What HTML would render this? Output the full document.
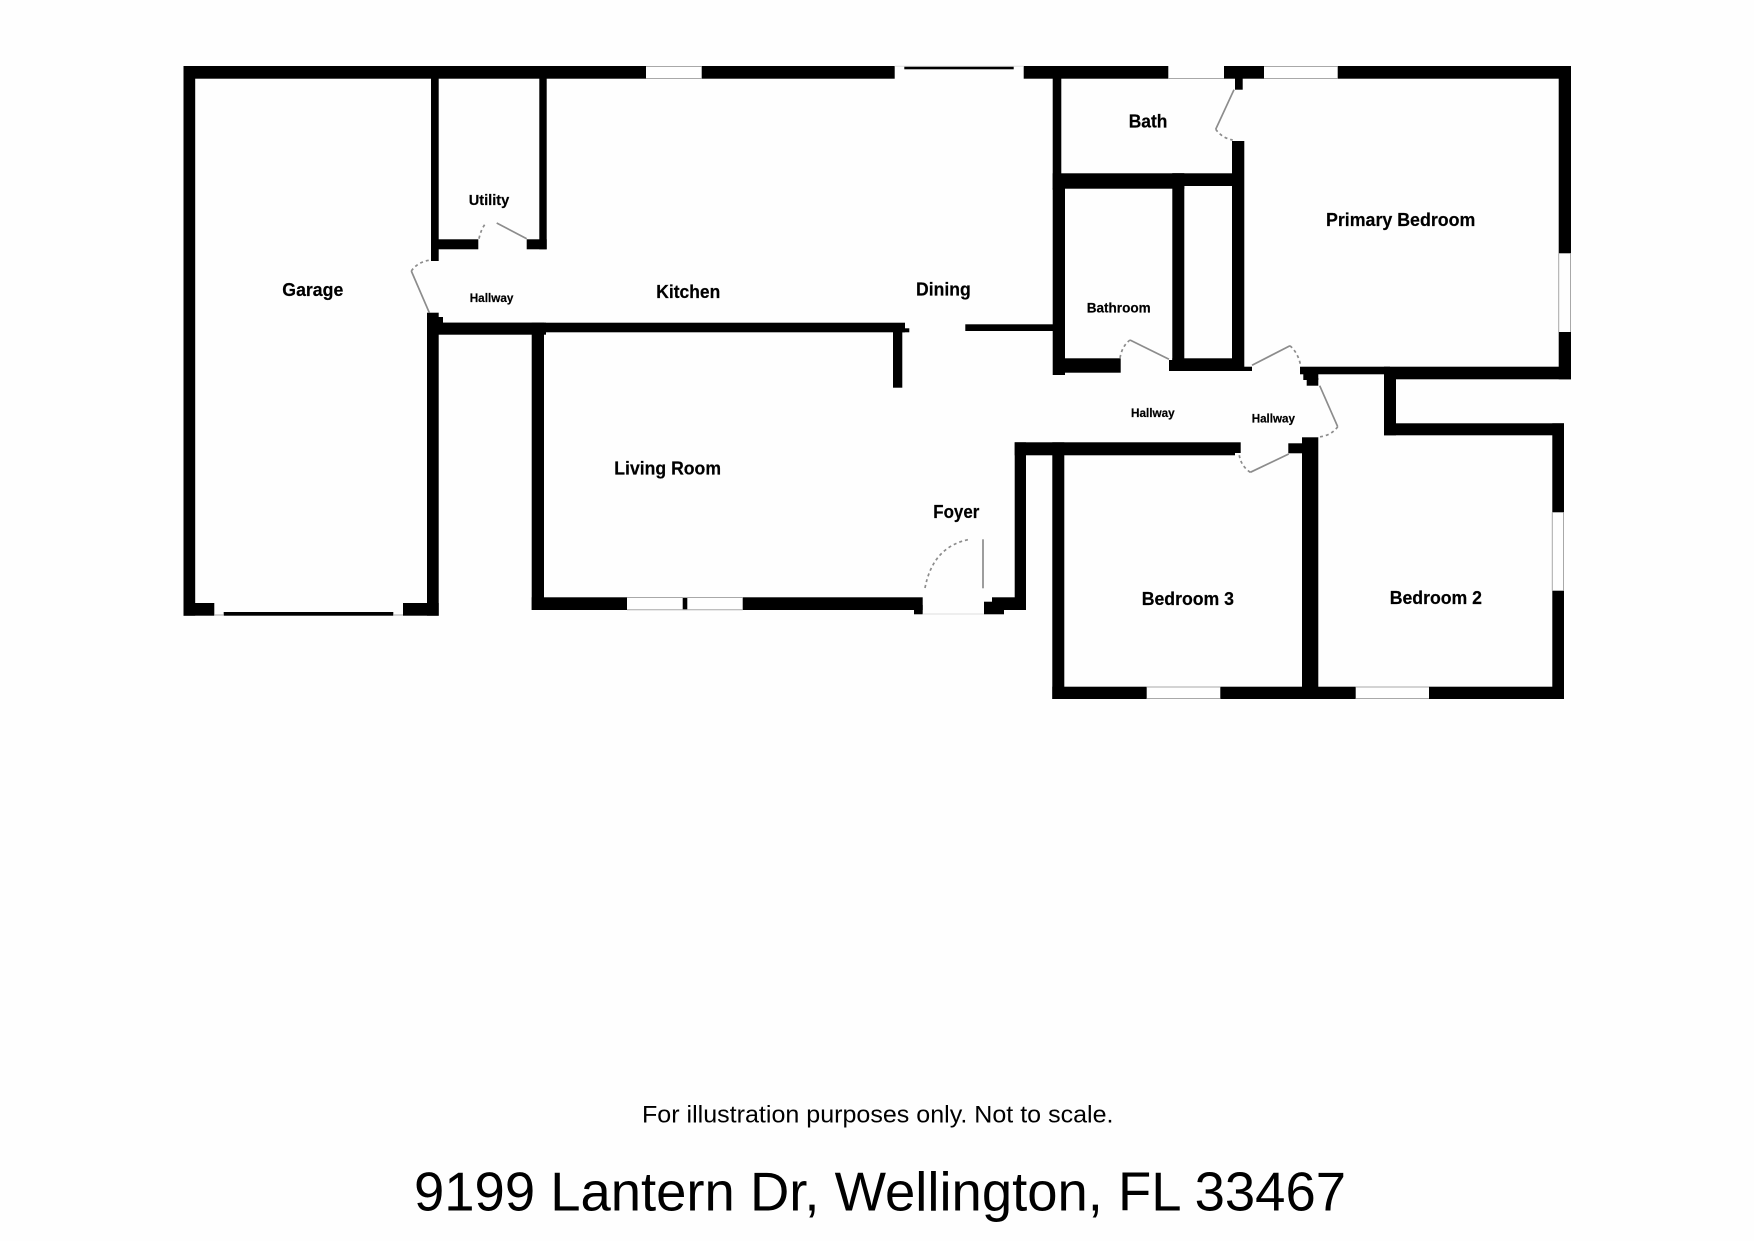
<!DOCTYPE html>
<html lang="en">
<head>
<meta charset="utf-8">
<title>9199 Lantern Dr floor plan</title>
<style>
html,body{margin:0;padding:0;background:#fff;width:1754px;height:1241px;overflow:hidden}
svg{display:block}
text{font-family:"Liberation Sans",sans-serif;fill:#000}
.b{font-weight:bold;stroke:#000;stroke-width:.2}
.win{stroke:#a8a8a8;stroke-width:1;fill:none}
.door{stroke:#8c8c8c;stroke-width:1.7;fill:none}
.arc{stroke:#8c8c8c;stroke-width:1.7;fill:none;stroke-dasharray:3 3}
</style>
</head>
<body>
<svg xmlns="http://www.w3.org/2000/svg" width="1754" height="1241" viewBox="0 0 1754 1241">
<rect width="1754" height="1241" fill="#fefefe"/>
<g fill="#000" stroke="none">
<!-- top wall -->
<rect x="183.5" y="66" width="462.5" height="12.7"/>
<rect x="701.7" y="66" width="193" height="12.7"/>
<rect x="904.3" y="66" width="109.4" height="3.3"/>
<rect x="1023.7" y="66" width="144.6" height="12.7"/>
<rect x="1224" y="66" width="40" height="12.7"/>
<rect x="1337.7" y="66" width="233.3" height="12.7"/>
<!-- garage -->
<rect x="183.5" y="66" width="11.7" height="549.7"/>
<rect x="183.5" y="603" width="30.8" height="12.7"/>
<rect x="223.7" y="612" width="169.6" height="3.7"/>
<rect x="403" y="603" width="35.7" height="12.7"/>
<rect x="427" y="312.7" width="11.7" height="303"/>
<rect x="438" y="317" width="5" height="8"/>
<!-- utility -->
<rect x="431" y="70" width="7.7" height="191"/>
<rect x="438" y="239.3" width="40.3" height="10"/>
<rect x="539.3" y="70" width="7.4" height="179.3"/>
<rect x="526.7" y="239.3" width="20" height="10"/>
<!-- kitchen / living divider -->
<rect x="438" y="322.7" width="467" height="9.6"/>
<rect x="427" y="322.7" width="119" height="12"/>
<rect x="900" y="328.3" width="9.3" height="4"/>
<rect x="893" y="330" width="9.3" height="57.7"/>
<!-- living room -->
<rect x="531.7" y="322.7" width="12.3" height="287.3"/>
<rect x="531.7" y="597.3" width="95.3" height="12.7"/>
<rect x="682.7" y="597.3" width="4.6" height="12.7"/>
<rect x="742.7" y="597.3" width="180" height="12.7"/>
<rect x="914" y="605" width="8.7" height="9.3"/>
<!-- foyer right -->
<rect x="984" y="601.7" width="20" height="12.6"/>
<rect x="992" y="597.3" width="34" height="12.7"/>
<rect x="1014.7" y="442.3" width="11.3" height="167.7"/>
<rect x="1014.7" y="442.3" width="220.3" height="13"/>
<rect x="1235" y="442.3" width="5.7" height="10.7"/>
<!-- bath / bathroom -->
<rect x="1052.7" y="70" width="8.6" height="120"/>
<rect x="1052.7" y="188" width="12.3" height="187"/>
<rect x="1052.7" y="173.3" width="131.6" height="15.4"/>
<rect x="1172.3" y="173.3" width="71.7" height="12.7"/>
<rect x="965.3" y="324.3" width="88" height="6.7"/>
<rect x="1060" y="358.3" width="60.7" height="14.4"/>
<rect x="1172.3" y="173.3" width="12" height="197.7"/>
<rect x="1169" y="360" width="10" height="11"/>
<rect x="1172.3" y="358.3" width="71.7" height="12.7"/>
<rect x="1240" y="366.7" width="12" height="4.3"/>
<rect x="1232" y="141" width="12.3" height="229"/>
<rect x="1235" y="70" width="7.7" height="19.7"/>
<!-- primary bedroom -->
<rect x="1558.7" y="66" width="12.3" height="187.3"/>
<rect x="1558.7" y="332" width="12.3" height="47.3"/>
<rect x="1384" y="366.7" width="187" height="12.6"/>
<rect x="1300" y="366.7" width="90" height="7.6"/>
<rect x="1303.3" y="372" width="15" height="8"/>
<rect x="1306.7" y="378" width="11.6" height="7.7"/>
<rect x="1384" y="372" width="12" height="63.3"/>
<!-- bedroom 2 -->
<rect x="1384" y="423.3" width="180" height="12"/>
<rect x="1552.3" y="423.3" width="11.7" height="89"/>
<rect x="1552.3" y="590.7" width="11.7" height="108.3"/>
<!-- bedroom 3 & shared -->
<rect x="1052.3" y="442.3" width="12" height="256.7"/>
<rect x="1052.3" y="686.7" width="94.4" height="12.3"/>
<rect x="1220.3" y="686.7" width="135.4" height="12.3"/>
<rect x="1429" y="686.7" width="135" height="12.3"/>
<rect x="1302" y="437.3" width="16.3" height="261.7"/>
<rect x="1288.3" y="443.3" width="14" height="10"/>
</g>
<!-- windows -->
<g class="win">
<path d="M646 66.5H701.7M646 78.5H701.7"/>
<path d="M1168.3 78.5H1224M1264 66.5H1337.7M1264 78.5H1337.7"/>
<path d="M1558.7 253.3V332M1570.5 253.3V332"/>
<path d="M1552.3 512.3V590.7M1563.5 512.3V590.7"/>
<path d="M1146.7 687H1220.3M1146.7 698.5H1220.3"/>
<path d="M1355.7 687H1429M1355.7 698.5H1429"/>
<path d="M627 597.5H742.7M627 609.8H742.7"/>
<path d="M214.3 615H223.7M393.3 615H403"/>
<path d="M922.7 614H984" stroke="#ddd"/>
<path d="M894.7 66.3H1023.7" stroke="#ddd"/>
</g>
<!-- doors -->
<g>
<path class="door" d="M429.3 312.7L411.3 271"/>
<path class="arc" d="M411.3 271Q418 261.5 431 260"/>
<path class="door" d="M526.7 238.7L496.7 223"/>
<path class="arc" d="M479 238.7Q481 229 486 223"/>
<path class="door" d="M1234 89.7L1215.7 129.3"/>
<path class="arc" d="M1215.7 129.3Q1222 138 1232.7 140"/>
<path class="door" d="M1169 359.3L1130 340"/>
<path class="arc" d="M1130 340Q1122 346 1120 358"/>
<path class="door" d="M1252 365.3L1290 345.7"/>
<path class="arc" d="M1290 345.7Q1299 354 1300.7 366.7"/>
<path class="door" d="M1319.7 385.7L1337.7 426.7"/>
<path class="arc" d="M1337.7 426.7Q1331 436 1318 437"/>
<path class="door" d="M1288.7 454L1250.3 472.3"/>
<path class="arc" d="M1250.3 472.3Q1241 466 1239.3 455.3"/>
<path class="door" d="M983 539.3V588.3"/>
<path class="arc" d="M925 588Q933 546 970 539.3"/>
</g>
<!-- labels -->
<g class="b">
<text x="282.3" y="296" font-size="18.5" textLength="61" lengthAdjust="spacingAndGlyphs">Garage</text>
<text x="468.7" y="205" font-size="15" textLength="40.6" lengthAdjust="spacingAndGlyphs">Utility</text>
<text x="469.7" y="301.8" font-size="12.3" textLength="43.7" lengthAdjust="spacingAndGlyphs">Hallway</text>
<text x="656.3" y="298.2" font-size="18.2" textLength="64" lengthAdjust="spacingAndGlyphs">Kitchen</text>
<text x="916" y="295.5" font-size="18.2" textLength="54.7" lengthAdjust="spacingAndGlyphs">Dining</text>
<text x="1128.7" y="127.5" font-size="18.2" textLength="38.7" lengthAdjust="spacingAndGlyphs">Bath</text>
<text x="1326" y="226" font-size="18.2" textLength="149.3" lengthAdjust="spacingAndGlyphs">Primary Bedroom</text>
<text x="1086.7" y="312.5" font-size="14.2" textLength="64" lengthAdjust="spacingAndGlyphs">Bathroom</text>
<text x="614.3" y="474.3" font-size="18.2" textLength="106.7" lengthAdjust="spacingAndGlyphs">Living Room</text>
<text x="933.3" y="518" font-size="18.2" textLength="46" lengthAdjust="spacingAndGlyphs">Foyer</text>
<text x="1131" y="417" font-size="12.3" textLength="43.7" lengthAdjust="spacingAndGlyphs">Hallway</text>
<text x="1251.7" y="422.4" font-size="12.3" textLength="43.3" lengthAdjust="spacingAndGlyphs">Hallway</text>
<text x="1141.7" y="605" font-size="18.2" textLength="92.3" lengthAdjust="spacingAndGlyphs">Bedroom 3</text>
<text x="1389.7" y="604" font-size="18.2" textLength="92.3" lengthAdjust="spacingAndGlyphs">Bedroom 2</text>
</g>
<text x="642" y="1122.7" font-size="24.5" textLength="471.5" lengthAdjust="spacingAndGlyphs">For illustration purposes only. Not to scale.</text>
<text x="414" y="1210.7" font-size="55" textLength="932" lengthAdjust="spacingAndGlyphs">9199 Lantern Dr, Wellington, FL 33467</text>
</svg>
</body>
</html>
